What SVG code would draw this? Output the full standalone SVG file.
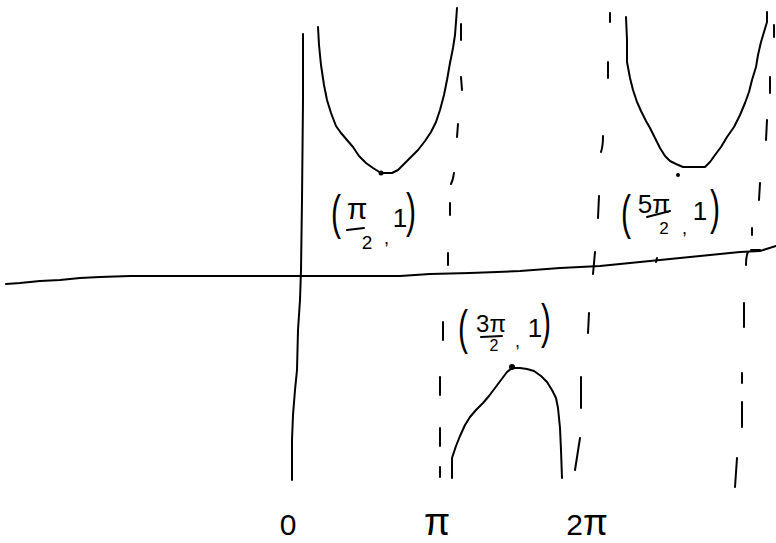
<svg xmlns="http://www.w3.org/2000/svg" width="776" height="543" viewBox="0 0 776 543">
<style>
.ln{fill:none;stroke:#000;stroke-width:2;stroke-linecap:round;stroke-linejoin:round}
.ds{fill:none;stroke:#000;stroke-width:2;stroke-linecap:round}
.t{font-family:"Liberation Sans",Arial,sans-serif;fill:#000}
.dot{fill:#000}
</style>
<rect width="776" height="543" fill="#fff"/>
<g id="axes">
<polyline class="ln" points="6,284 20,283 40,281 60,280 80,278 100,277 130,276 190,276 300,276 400,276 430,274 470,273 520,271 560,268 600,266 650,261 700,256 740,252 760,251 776,246"/>
<polyline class="ln" points="303,34 303,100 302,200 301,270 300,300 298,330 297,370 295,390 293,415 292,440 292,480"/>
<line class="ds" x1="657" y1="258" x2="656" y2="262"/>
<line class="ds" x1="751" y1="250" x2="760" y2="250"/>
</g>
<g id="asymptotes">
<path class="ds" d="M461,24V40 M461,77L462,90 M458,124L457,137 M454,173Q453,180 451,184 M450,203V215 M448,253V265 M443,322V340 M440,377V395 M440,428V446 M440,467V477"/>
<path class="ds" d="M610,13V22 M608,62V78 M603,136Q603,146 601,152 M599,196L598,218 M595,252L593,274 M589,313L588,333 M581,377V408 M580,438L575,470"/>
<path class="ds" d="M774,25V37 M770,77V93 M767,120L766,140 M760,183L759,200 M752,228V235 M748,252Q746,256 746,265 M744,303V327 M742,373V383 M742,402V427 M737,458L735,487"/>
</g>
<g id="curves">
<polyline class="ln" points="318,27 319,45 321,65 324,85 327,100 331,113 336,126 341,133 347,140 353,147 359,156 366,163 373,168 381,173 392,173 398,170 404,164 411,157 418,150 425,141 431,132 436,122 440,110 444,95 447,80 450,63 453,48 455,35 456,22 457,8"/>
<polyline class="ln" points="452,478 452,458 456,446 460,436 465,425 470,417 476,410 483,403 489,396 495,388 501,380 507,372 512,368 520,368 527,369 534,371 541,376 547,382 552,390 556,398 558,408 560,428 561,450 562,478"/>
<polyline class="ln" points="626,17 627,40 627,62 630,78 633,90 637,102 641,111 646,121 650,128 655,138 660,148 665,156 670,161 676,164 683,167 705,167 710,162 715,155 721,147 727,137 734,127 740,115 745,103 749,92 752,80 756,67 758,55 761,42 764,32 767,22 767,12"/>
<circle class="dot" cx="381" cy="173" r="2.5"/>
<circle class="dot" cx="512" cy="367" r="3"/>
<circle class="dot" cx="678" cy="175" r="2"/>
</g>
<g id="label-pi2">
<text class="t" x="331" y="143" font-size="30" transform="scale(1,1.6)">(</text>
<text class="t" x="357" y="219" font-size="30" text-anchor="middle">π</text>
<line class="ds" x1="347" y1="230" x2="364" y2="228"/>
<text class="t" x="367" y="249" font-size="19" text-anchor="middle">2</text>
<text class="t" x="384" y="244" font-size="18">,</text>
<text class="t" x="400" y="227" font-size="26" text-anchor="middle">1</text>
<text class="t" x="406" y="142" font-size="30" transform="scale(1,1.6)">)</text>
</g>
<g id="label-5pi2">
<text class="t" x="621" y="143" font-size="30" transform="scale(1,1.6)">(</text>
<text class="t" x="654" y="213" font-size="26" text-anchor="middle">5π</text>
<line class="ds" x1="647" y1="217" x2="670" y2="211"/>
<text class="t" x="664" y="234" font-size="17" text-anchor="middle">2</text>
<text class="t" x="682" y="234" font-size="18">,</text>
<text class="t" x="700" y="220" font-size="26" text-anchor="middle">1</text>
<text class="t" x="710" y="140" font-size="30" transform="scale(1,1.6)">)</text>
</g>
<g id="label-3pi2">
<text class="t" x="458" y="215" font-size="30" transform="scale(1,1.6)">(</text>
<text class="t" x="491" y="332" font-size="24" text-anchor="middle">3π</text>
<line class="ds" x1="481" y1="337" x2="502" y2="336"/>
<text class="t" x="494" y="351" font-size="16" text-anchor="middle">2</text>
<text class="t" x="515" y="347" font-size="18">,</text>
<text class="t" x="535" y="337" font-size="26" text-anchor="middle">1</text>
<text class="t" x="541" y="211" font-size="30" transform="scale(1,1.6)">)</text>
</g>
<g id="ticks">
<text class="t" x="288" y="535" font-size="30" text-anchor="middle">0</text>
<text class="t" x="437" y="535" font-size="38" text-anchor="middle">π</text>
<text class="t" x="587" y="535" font-size="30" text-anchor="middle">2<tspan font-size="36">π</tspan></text>
</g>
</svg>
